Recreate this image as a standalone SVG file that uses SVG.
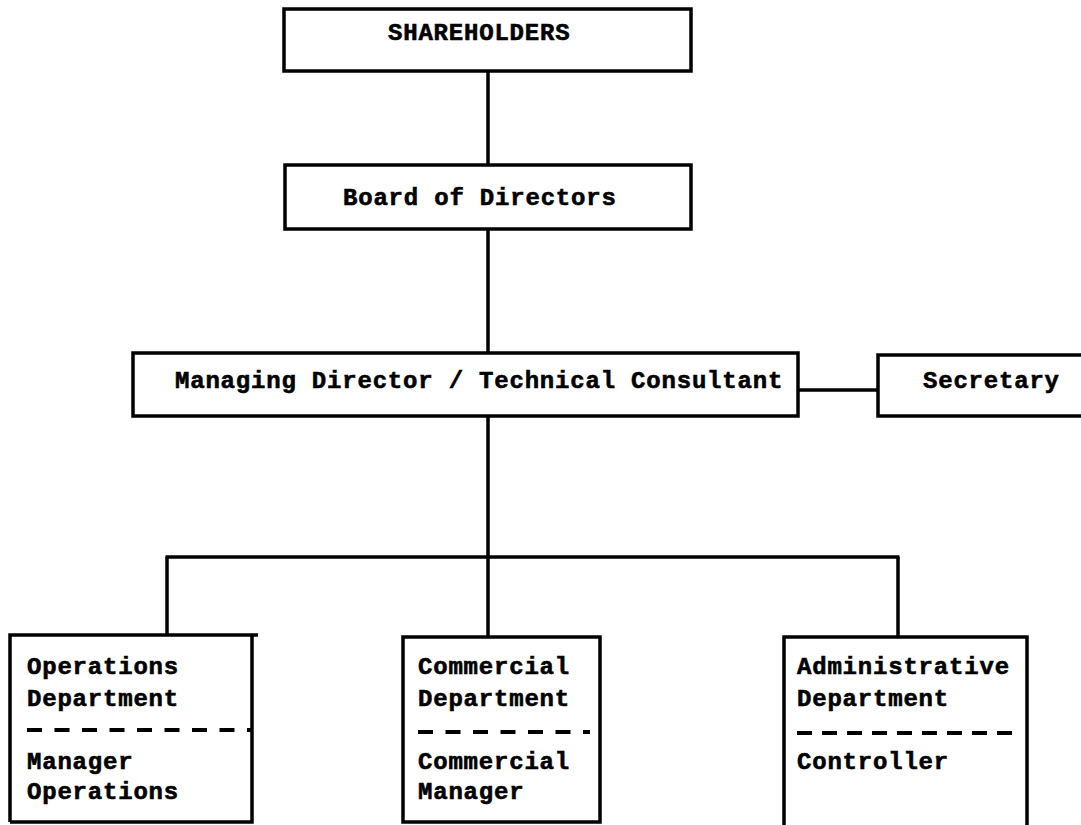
<svg xmlns="http://www.w3.org/2000/svg" width="1081" height="825" viewBox="0 0 1081 825">
<style>
.box{fill:none;stroke:#000;stroke-width:3.5}
.con{fill:none;stroke:#000;stroke-width:3.5}
.dash{fill:none;stroke:#000;stroke-width:4;stroke-dasharray:15 12.5}
text{font-family:"Liberation Mono","DejaVu Sans Mono",monospace;font-weight:bold;font-size:24px;letter-spacing:0.8px;fill:#000;stroke:#000;stroke-width:0.6}
</style>
<rect width="1081" height="825" fill="#fff"/>
<g id="connectors">
<line class="con" x1="488" y1="71" x2="488" y2="165"/>
<line class="con" x1="488" y1="229" x2="488" y2="353"/>
<line class="con" x1="798" y1="390" x2="878" y2="390"/>
<line class="con" x1="488" y1="416" x2="488" y2="557"/>
<line class="con" x1="165.5" y1="557" x2="899.5" y2="557"/>
<line class="con" x1="167" y1="557" x2="167" y2="635"/>
<line class="con" x1="488" y1="557" x2="488" y2="637"/>
<line class="con" x1="898" y1="557" x2="898" y2="637"/>
</g>
<g id="shareholders">
<rect class="box" x="284" y="9" width="407" height="62"/>
<text x="388" y="40">SHAREHOLDERS</text>
</g>
<g id="board">
<rect class="box" x="285" y="165" width="406" height="64"/>
<text x="343" y="205">Board of Directors</text>
</g>
<g id="managing-director">
<rect class="box" x="133" y="353" width="665" height="63"/>
<text x="175" y="388">Managing Director / Technical Consultant</text>
</g>
<g id="secretary">
<rect class="box" x="878" y="355" width="210" height="61"/>
<text x="923" y="388">Secretary</text>
</g>
<g id="operations">
<path class="box" d="M10 822 V635 H258 M252 635 V822 H10"/>
<line class="dash" x1="27" y1="730" x2="252" y2="730"/>
<text x="27" y="674">Operations</text>
<text x="27" y="706">Department</text>
<text x="27" y="769">Manager</text>
<text x="27" y="799">Operations</text>
</g>
<g id="commercial">
<rect class="box" x="403" y="637" width="197" height="185"/>
<line class="dash" x1="418" y1="732" x2="590" y2="732"/>
<text x="418" y="674">Commercial</text>
<text x="418" y="706">Department</text>
<text x="418" y="769">Commercial</text>
<text x="418" y="799">Manager</text>
</g>
<g id="administrative">
<path class="box" d="M784 830 V637 H1027 V830"/>
<line class="dash" x1="797" y1="733" x2="1013" y2="733" style="stroke-dasharray:15 10"/>
<text x="797" y="674">Administrative</text>
<text x="797" y="706">Department</text>
<text x="797" y="769">Controller</text>
</g>
</svg>
